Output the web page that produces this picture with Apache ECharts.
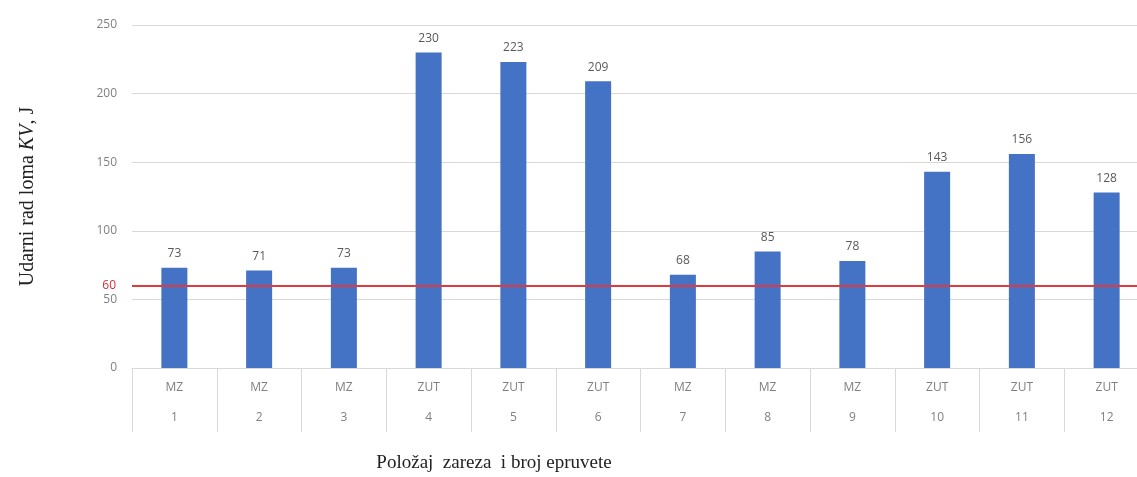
<!DOCTYPE html>
<html>
<head>
<meta charset="utf-8">
<style>
  html, body { margin: 0; padding: 0; background: #fff; }
  #chart { width: 1137px; height: 477px; }
</style>
<script src="https://cdn.jsdelivr.net/npm/echarts@6/dist/echarts.min.js"></script>
</head>
<body>
<div id="chart"></div>
<script>
// Notch position and specimen number for each test piece
const notchPositions = ['MZ', 'MZ', 'MZ', 'ZUT', 'ZUT', 'ZUT', 'MZ', 'MZ', 'MZ', 'ZUT', 'ZUT', 'ZUT'];
const specimenNumbers = ['1', '2', '3', '4', '5', '6', '7', '8', '9', '10', '11', '12'];
// Impact energy KV in joules
const impactEnergy = [73, 71, 73, 230, 223, 209, 68, 85, 78, 143, 156, 128];
// Required minimum
const minimumEnergy = 60;
const yTicks = { min: 0, max: 250, interval: 50 };

const categories = specimenNumbers.map((n, i) => notchPositions[i] + '|' + n);

const labelFont = 'Open Sans';

const chart = echarts.init(document.getElementById('chart'));
chart.setOption({
  animation: false,
  backgroundColor: '#ffffff',
  grid: { left: 132, right: -12, top: 25, bottom: 109, outerBoundsMode: 'none', containLabel: false },
  graphic: [{
    type: 'text',
    x: 494,
    y: 463,
    style: {
      text: 'Položaj  zareza  i broj epruvete',
      fontFamily: 'Liberation Serif',
      fontSize: 19,
      fill: '#222',
      align: 'center',
      verticalAlign: 'middle'
    }
  }],
  xAxis: {
    type: 'category',
    data: categories,
    axisLine: { show: true, lineStyle: { color: '#d9d9d9', width: 1 } },
    axisTick: { show: true, interval: 0, length: 64, lineStyle: { color: '#d9d9d9' } },
    axisLabel: {
      interval: 0,
      margin: 5,
      formatter: v => {
        const p = v.split('|');
        return '{a|' + p[0] + '}\n{b|' + p[1] + '}';
      },
      rich: {
        a: { fontFamily: labelFont, fontSize: 12, color: '#808080', lineHeight: 30 },
        b: { fontFamily: labelFont, fontSize: 12, color: '#808080', lineHeight: 30 }
      }
    }
  },
  yAxis: {
    type: 'value',
    min: yTicks.min,
    max: yTicks.max,
    interval: yTicks.interval,
    name: '{t|Udarni rad loma }{i|KV}{t|, J}',
    nameLocation: 'middle',
    nameGap: 94,
    nameRotate: 90,
    nameTextStyle: {
      rich: {
        t: { fontFamily: 'Liberation Serif', fontSize: 20, color: '#222' },
        i: { fontFamily: 'Liberation Serif', fontSize: 20, color: '#222', fontStyle: 'italic' }
      }
    },
    axisLine: { show: false },
    axisTick: { show: false },
    axisLabel: {
      margin: 15,
      fontFamily: labelFont,
      fontSize: 12,
      color: '#808080'
    },
    splitLine: { lineStyle: { color: '#d9d9d9', width: 1 } }
  },
  series: [{
    type: 'bar',
    data: impactEnergy,
    barWidth: 26,
    itemStyle: { color: '#4472c4' },
    label: {
      show: true,
      position: 'top',
      distance: 8,
      fontFamily: labelFont,
      fontSize: 12,
      color: '#595959'
    },
    markLine: {
      silent: true,
      symbol: ['none', 'none'],
      lineStyle: { color: '#e0393e', width: 2, type: 'solid' },
      label: {
        show: true,
        position: 'start',
        distance: 16,
        formatter: String(minimumEnergy),
        fontFamily: labelFont,
        fontSize: 12,
        color: '#d0303a'
      },
      data: [{ yAxis: minimumEnergy }]
    }
  }]
});
</script>
</body>
</html>
